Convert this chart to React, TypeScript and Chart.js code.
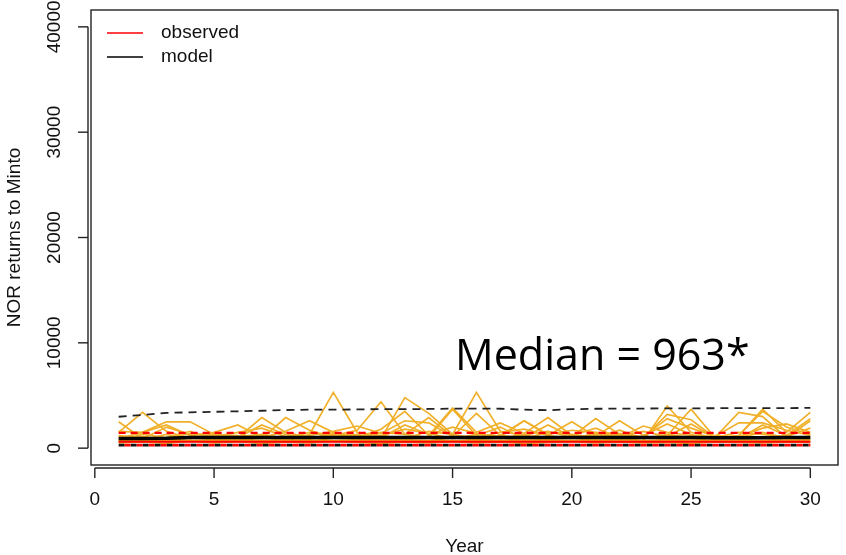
import React, { useEffect, useRef } from "react";
import { Chart, registerables } from "chart.js";

Chart.register(...registerables);

const years = [1, 2, 3, 4, 5, 6, 7, 8, 9, 10, 11, 12, 13, 14, 15, 16, 17, 18, 19, 20, 21, 22, 23, 24, 25, 26, 27, 28, 29, 30];

const xTicks = [0, 5, 10, 15, 20, 25, 30];
const yTicks = [0, 10000, 20000, 30000, 40000];

const sim1 = [1500, 3400, 1600, 900, 1200, 800, 1100, 700, 1300, 5300, 1500, 1200, 1800, 1400, 900, 1300, 1100, 2600, 1200, 900, 1400, 1000, 700, 4000, 1500, 900, 1200, 3700, 1500, 3400];
const sim2 = [2500, 900, 2000, 1300, 700, 1000, 2900, 1500, 1000, 1200, 1700, 4400, 1300, 1000, 3700, 1200, 2000, 900, 1500, 1300, 1000, 1700, 900, 1200, 3700, 1000, 1500, 1300, 1100, 1900];
const sim3 = [900, 1500, 2500, 2500, 1300, 1200, 900, 2900, 1700, 1000, 1300, 900, 4800, 3300, 1300, 5300, 1600, 1200, 900, 1100, 2800, 1300, 1000, 3200, 2700, 1000, 1200, 3500, 2000, 1300];
const sim4 = [1600, 1500, 2200, 1200, 1500, 2200, 1000, 1600, 2600, 1500, 1000, 1800, 3500, 1200, 3800, 1500, 2400, 1400, 2900, 1200, 1900, 1000, 2100, 1500, 1200, 1000, 3400, 3000, 1000, 2600];
const sim5 = [1200, 1000, 900, 1400, 1100, 1500, 1900, 1100, 1200, 1600, 2100, 1400, 2600, 2400, 1100, 3300, 1200, 2600, 1300, 1700, 1500, 1300, 1100, 2800, 1900, 1100, 2400, 2400, 1700, 1200];
const sim6 = [700, 1300, 1000, 1600, 800, 1100, 1300, 900, 1500, 1100, 900, 1500, 1300, 2900, 1100, 1000, 1500, 1800, 1200, 2500, 1100, 2600, 1200, 2300, 1300, 800, 1100, 1900, 2300, 1500];
const sim7 = [1100, 800, 1300, 900, 1400, 1000, 2200, 1300, 900, 1400, 1200, 1000, 2200, 1300, 2000, 1400, 900, 1300, 1600, 1000, 1300, 1200, 1600, 1100, 2300, 1000, 900, 2200, 1200, 2800];
const sim8 = [800, 1100, 700, 1000, 900, 800, 1200, 1000, 800, 1300, 1000, 1200, 900, 1600, 1300, 900, 1200, 1000, 2200, 1100, 900, 1400, 900, 1300, 1000, 1200, 1000, 1500, 900, 1000];
const sim9 = [600, 700, 900, 700, 800, 900, 700, 800, 1000, 700, 800, 900, 800, 700, 1000, 800, 700, 900, 800, 700, 900, 800, 700, 800, 900, 700, 800, 700, 900, 800];
const sim10 = [500, 600, 450, 700, 500, 650, 450, 600, 500, 700, 550, 450, 600, 500, 650, 500, 600, 450, 550, 650, 500, 600, 500, 550, 450, 600, 550, 500, 600, 550];
const simulations = [sim1, sim2, sim3, sim4, sim5, sim6, sim7, sim8, sim9, sim10];

const modelMedian = [920, 920, 930, 1000, 1000, 1000, 1000, 1000, 1000, 1000, 1010, 1010, 1010, 1010, 1010, 1010, 1010, 1000, 1000, 1000, 1000, 1000, 1000, 1000, 1000, 980, 980, 980, 1000, 1000];
const modelUpper = [2980, 3150, 3350, 3400, 3450, 3500, 3550, 3620, 3650, 3650, 3680, 3700, 3700, 3720, 3750, 3760, 3740, 3650, 3600, 3700, 3740, 3750, 3760, 3780, 3780, 3790, 3800, 3800, 3800, 3820];
const modelLower = [290, 290, 290, 290, 290, 290, 290, 290, 290, 290, 290, 290, 290, 290, 290, 290, 290, 290, 290, 290, 290, 290, 290, 290, 290, 290, 290, 290, 290, 290];
const simMean = [680, 680, 680, 680, 680, 680, 680, 680, 680, 680, 680, 680, 680, 680, 680, 680, 680, 680, 680, 680, 680, 680, 680, 680, 680, 680, 680, 680, 680, 680];
const obsMedian = [600, 600, 600, 600, 600, 600, 600, 600, 600, 600, 600, 600, 600, 600, 600, 600, 600, 600, 600, 600, 600, 600, 600, 600, 600, 600, 600, 600, 600, 600];
const obsUpper = [1450, 1450, 1450, 1450, 1450, 1450, 1450, 1450, 1450, 1450, 1450, 1450, 1450, 1450, 1450, 1450, 1450, 1450, 1450, 1450, 1450, 1450, 1450, 1450, 1450, 1450, 1450, 1450, 1450, 1450];
const obsLower = [290, 290, 290, 290, 290, 290, 290, 290, 290, 290, 290, 290, 290, 290, 290, 290, 290, 290, 290, 290, 290, 290, 290, 290, 290, 290, 290, 290, 290, 290];

const legendLabels = ["observed", "model"];
const legendColors = ["#ff0000", "#000000"];
const annotationText = "Median = 963*";
const xTitle = "Year";
const yTitle = "NOR returns to Minto";

const ORANGE = "#F0B02A";
const FONT = "Liberation Sans, Arial, sans-serif";

const pts = (vals: number[]) => vals.map((v, i) => ({ x: years[i], y: v }));

const rAxesPlugin = {
  id: "rAxes",
  afterDraw(chart: any) {
    const ctx = chart.ctx;
    const a = chart.chartArea;
    const xs = chart.scales.x;
    const ys = chart.scales.y;
    ctx.save();
    ctx.strokeStyle = "#222";
    ctx.lineWidth = 1.4;
    ctx.strokeRect(a.left, a.top, a.right - a.left, a.bottom - a.top);

    // x axis
    const axY = a.bottom + 3;
    ctx.beginPath();
    ctx.moveTo(xs.getPixelForValue(xTicks[0]), axY);
    ctx.lineTo(xs.getPixelForValue(xTicks[xTicks.length - 1]), axY);
    ctx.stroke();
    ctx.fillStyle = "#111";
    ctx.font = `19px ${FONT}`;
    ctx.textAlign = "center";
    ctx.textBaseline = "middle";
    xTicks.forEach((t) => {
      const px = xs.getPixelForValue(t);
      ctx.beginPath();
      ctx.moveTo(px, axY);
      ctx.lineTo(px, axY + 10);
      ctx.stroke();
      ctx.fillText(String(t), px, 500);
    });
    ctx.fillText(xTitle, (a.left + a.right) / 2, 547);

    // y axis
    const axX = a.left - 3;
    ctx.beginPath();
    ctx.moveTo(axX, ys.getPixelForValue(yTicks[0]));
    ctx.lineTo(axX, ys.getPixelForValue(yTicks[yTicks.length - 1]));
    ctx.stroke();
    yTicks.forEach((t) => {
      const py = ys.getPixelForValue(t);
      ctx.beginPath();
      ctx.moveTo(axX, py);
      ctx.lineTo(axX - 10, py);
      ctx.stroke();
      ctx.save();
      ctx.translate(55, py);
      ctx.rotate(-Math.PI / 2);
      ctx.fillText(String(t), 0, 0);
      ctx.restore();
    });
    ctx.save();
    ctx.translate(15, (a.top + a.bottom) / 2);
    ctx.rotate(-Math.PI / 2);
    ctx.fillText(yTitle, 0, 0);
    ctx.restore();

    // legend
    ctx.textAlign = "left";
    legendLabels.forEach((lab, i) => {
      const ly = 33 + i * 24;
      ctx.strokeStyle = legendColors[i];
      ctx.lineWidth = 1.3;
      ctx.beginPath();
      ctx.moveTo(107, ly);
      ctx.lineTo(143, ly);
      ctx.stroke();
      ctx.fillStyle = "#111";
      ctx.fillText(lab, 161, ly);
    });

    // annotation
    ctx.fillStyle = "#000";
    ctx.font = `43px "Open Sans", "Noto Sans", sans-serif`;
    ctx.textAlign = "left";
    ctx.textBaseline = "alphabetic";
    ctx.fillText(annotationText, 455, 370);
    ctx.restore();
  },
};

export default function App() {
  const ref = useRef<HTMLCanvasElement>(null);
  useEffect(() => {
    document.body.style.margin = "0";
    const datasets: any[] = [];
    simulations.forEach((s, i) => {
      datasets.push({
        label: "sim" + (i + 1),
        data: pts(s),
        borderColor: ORANGE,
        borderWidth: 1.7,
        pointRadius: 0,
        order: 20,
      });
    });
    datasets.push({ label: "simMean", data: pts(simMean), borderColor: "#F0A020", borderWidth: 2.5, pointRadius: 0, order: 10 });
    datasets.push({ label: "obsMedian", data: pts(obsMedian), borderColor: "#ff0000", borderWidth: 2, pointRadius: 0, order: 9 });
    datasets.push({ label: "modelLower", data: pts(modelLower), borderColor: "#111", borderWidth: 2.8, borderDash: [6, 6], pointRadius: 0, order: 8 });
    datasets.push({ label: "obsLower", data: pts(obsLower), borderColor: "#ff0000", borderWidth: 2.8, borderDash: [6, 6], borderDashOffset: 6, pointRadius: 0, order: 7 });
    datasets.push({ label: "obsUpper", data: pts(obsUpper), borderColor: "#ff0000", borderWidth: 2.2, borderDash: [7, 5], pointRadius: 0, order: 6 });
    datasets.push({ label: "modelUpper", data: pts(modelUpper), borderColor: "#222", borderWidth: 1.8, borderDash: [8, 6], pointRadius: 0, order: 5 });
    datasets.push({ label: "modelMedian", data: pts(modelMedian), borderColor: "#000", borderWidth: 3.5, pointRadius: 0, order: 1 });

    const chart = new Chart(ref.current!, {
      type: "line",
      data: { datasets },
      options: {
        responsive: false,
        animation: false,
        layout: { padding: { left: 91, right: 8, top: 10, bottom: 90 } },
        scales: {
          x: { type: "linear", min: -0.16, max: 31.16, display: false },
          y: { type: "linear", min: -1600, max: 41600, display: false },
        },
        plugins: { legend: { display: false }, tooltip: { enabled: false } },
        elements: { line: { tension: 0 } },
      },
      plugins: [rAxesPlugin],
    });
    return () => chart.destroy();
  }, []);
  return (
    <div style={{ position: "absolute", left: 0, top: 0, width: 846, height: 555, background: "#fff" }}>
      <canvas ref={ref} width={846} height={555} />
    </div>
  );
}
